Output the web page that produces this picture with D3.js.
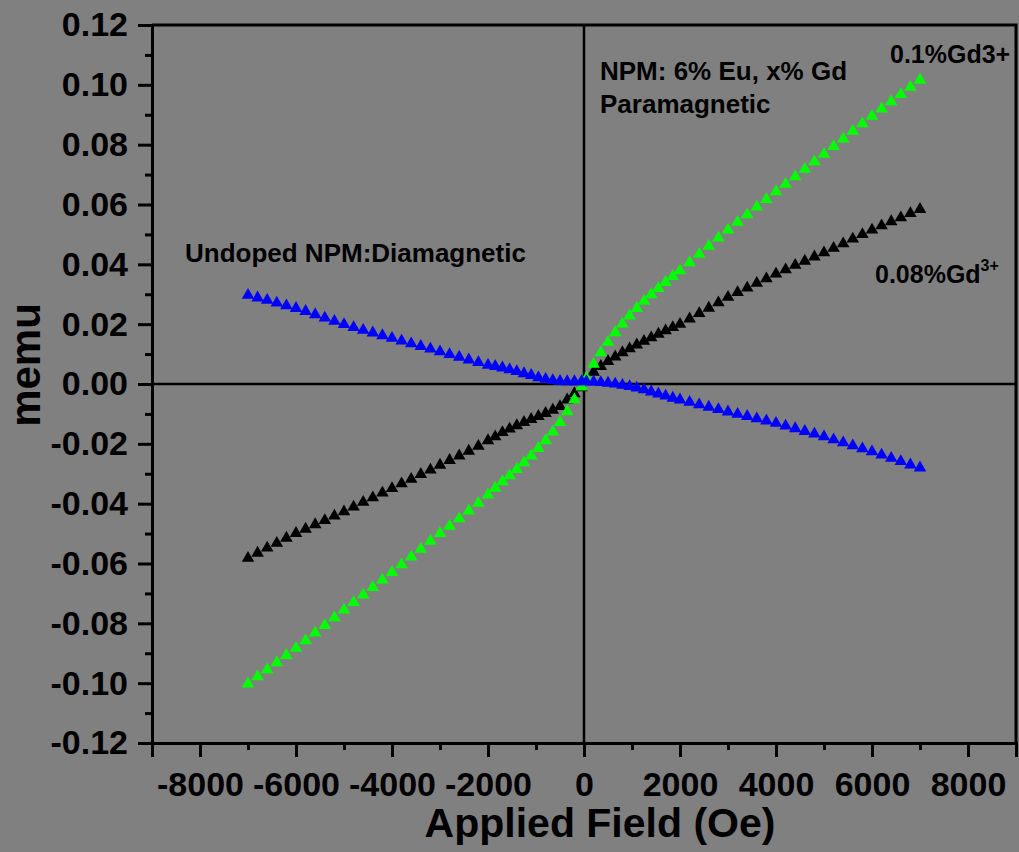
<!DOCTYPE html>
<html>
<head>
<meta charset="utf-8">
<title>M-H curves</title>
<script src="https://d3js.org/d3.v7.min.js"></script>
<style>
  body { margin: 0; background: #808080; }
  svg { display: block; }
  text { font-family: Arial, "Liberation Sans", sans-serif; font-weight: bold; fill: #000; }
</style>
</head>
<body>
<div id="chart"></div>
<script>
// applied field (Oe), sweep from +7000 to -7000
var field = [7000, 6800, 6600, 6400, 6200, 6000, 5800, 5600, 5400, 5200, 5000, 4800, 4600, 4400, 4200,
  4000, 3800, 3600, 3400, 3200, 3000, 2800, 2600, 2400, 2200, 2000,
  1850, 1700, 1550, 1400, 1250, 1100, 950, 800, 650, 500, 350, 200, 50,
  -50, -200, -350, -500, -650, -800, -950, -1100, -1250, -1400, -1550, -1700, -1850,
  -2000, -2200, -2400, -2600, -2800, -3000, -3200, -3400, -3600, -3800, -4000, -4200, -4400,
  -4600, -4800, -5000, -5200, -5400, -5600, -5800, -6000, -6200, -6400, -6600, -6800, -7000];

// 0.08% Gd3+ (black)
var gd008 = [0.0584, 0.0570, 0.0556, 0.0543, 0.0529, 0.0515, 0.0500, 0.0485, 0.0469, 0.0454, 0.0439, 0.0425, 0.0411, 0.0397, 0.0382,
  0.0368, 0.0352, 0.0337, 0.0321, 0.0306, 0.0290, 0.0272, 0.0254, 0.0236, 0.0218, 0.0200,
  0.0189, 0.0178, 0.0167, 0.0155, 0.0143, 0.0131, 0.0118, 0.0105, 0.0091, 0.0076, 0.0059, 0.0040, 0.0016,
  -0.0012, -0.0032, -0.0053, -0.0075, -0.0087, -0.0098, -0.0108, -0.0118, -0.0128, -0.0139, -0.0150, -0.0162, -0.0176,
  -0.0189, -0.0208, -0.0224, -0.0240, -0.0255, -0.0271, -0.0287, -0.0302, -0.0318, -0.0333, -0.0349, -0.0364, -0.0380,
  -0.0395, -0.0411, -0.0427, -0.0441, -0.0456, -0.0470, -0.0485, -0.0499, -0.0515, -0.0532, -0.0548, -0.0565, -0.0582];

// 0.1% Gd3+ (green)
var gd01 = [0.1016, 0.0992, 0.0968, 0.0944, 0.0920, 0.0895, 0.0870, 0.0845, 0.0819, 0.0794, 0.0768, 0.0743, 0.0718, 0.0693, 0.0668,
  0.0643, 0.0617, 0.0592, 0.0566, 0.0541, 0.0515, 0.0488, 0.0461, 0.0434, 0.0406, 0.0379,
  0.0360, 0.0340, 0.0320, 0.0299, 0.0277, 0.0253, 0.0228, 0.0201, 0.0172, 0.0140, 0.0105, 0.0066, 0.0020,
  -0.0010, -0.0052, -0.0092, -0.0128, -0.0160, -0.0189, -0.0215, -0.0240, -0.0263, -0.0285, -0.0306, -0.0326, -0.0348,
  -0.0371, -0.0398, -0.0424, -0.0450, -0.0475, -0.0499, -0.0525, -0.0552, -0.0578, -0.0604, -0.0630, -0.0655, -0.0680,
  -0.0705, -0.0730, -0.0755, -0.0781, -0.0807, -0.0832, -0.0858, -0.0883, -0.0907, -0.0931, -0.0955, -0.0978, -0.1002];

// undoped NPM (blue)
var undoped = [-0.0280, -0.0270, -0.0259, -0.0248, -0.0237, -0.0226, -0.0216, -0.0206, -0.0196, -0.0186, -0.0176, -0.0167, -0.0158, -0.0149, -0.0140,
  -0.0131, -0.0123, -0.0116, -0.0108, -0.0101, -0.0093, -0.0085, -0.0077, -0.0069, -0.0061, -0.0053,
  -0.0047, -0.0040, -0.0033, -0.0026, -0.0019, -0.0013, -0.0008, -0.0004, 0.0000, 0.0003, 0.0005, 0.0007, 0.0008,
  0.0008, 0.0008, 0.0008, 0.0009, 0.0012, 0.0016, 0.0021, 0.0029, 0.0035, 0.0042, 0.0048, 0.0054, 0.0059,
  0.0063, 0.0072, 0.0081, 0.0090, 0.0099, 0.0108, 0.0117, 0.0126, 0.0135, 0.0144, 0.0153, 0.0162, 0.0171,
  0.0180, 0.0189, 0.0199, 0.0210, 0.0221, 0.0232, 0.0243, 0.0253, 0.0262, 0.0271, 0.0280, 0.0288, 0.0297];

var yTicks = [-0.12, -0.10, -0.08, -0.06, -0.04, -0.02, 0, 0.02, 0.04, 0.06, 0.08, 0.10, 0.12];
var yMinor = [-0.11, -0.09, -0.07, -0.05, -0.03, -0.01, 0.01, 0.03, 0.05, 0.07, 0.09, 0.11];
var xTicks = [-8000, -6000, -4000, -2000, 0, 2000, 4000, 6000, 8000];
var xMinor = [-9000, -7000, -5000, -3000, -1000, 1000, 3000, 5000, 7000, 9000];

var series = [
  { name: "0.08%Gd3+", values: gd008, color: "#000000" },
  { name: "0.1%Gd3+", values: gd01, color: "#00ff00" },
  { name: "Undoped", values: undoped, color: "#0000ff" }
];

var width = 1019, height = 852;
var plotL = 152, plotR = 1016, plotT = 25, plotB = 743;

var svg = d3.select("#chart").append("svg")
    .attr("width", width)
    .attr("height", height)
    .style("background", "#808080");

var x = d3.scaleLinear().domain([-9000, 9000]).range([plotL, plotR]);
var y = d3.scaleLinear().domain([-0.12, 0.12]).range([plotB, plotT]);

// zero lines
svg.append("line")
    .attr("x1", plotL).attr("x2", plotR)
    .attr("y1", y(0)).attr("y2", y(0))
    .attr("stroke", "#000").attr("stroke-width", 2.5);
svg.append("line")
    .attr("x1", x(0)).attr("x2", x(0))
    .attr("y1", plotT).attr("y2", plotB)
    .attr("stroke", "#000").attr("stroke-width", 2.5);

// frame top / right
svg.append("path")
    .attr("d", "M" + plotL + "," + plotT + "H" + plotR + "V" + plotB)
    .attr("fill", "none").attr("stroke", "#000").attr("stroke-width", 3);

// axes
svg.append("g")
    .attr("transform", "translate(" + plotL + ",0)")
    .call(d3.axisLeft(y).tickValues(yTicks).tickSize(14).tickPadding(10)
        .tickFormat(function(d) { return d.toFixed(2); }));
svg.append("g")
    .attr("transform", "translate(" + plotL + ",0)")
    .call(d3.axisLeft(y).tickValues(yMinor).tickSize(7).tickFormat(""));

svg.append("g")
    .attr("transform", "translate(0," + plotB + ")")
    .call(d3.axisBottom(x).tickValues(xTicks).tickSize(14).tickPadding(15)
        .tickFormat(function(d) { return String(d); }));
svg.append("g")
    .attr("transform", "translate(0," + plotB + ")")
    .call(d3.axisBottom(x).tickValues(xMinor).tickSize(7).tickFormat(""));

svg.selectAll(".domain").attr("stroke", "#000").attr("stroke-width", 3);
svg.selectAll(".tick line").attr("stroke", "#000").attr("stroke-width", 3);
svg.selectAll(".tick text").style("font-size", "34px").attr("fill", "#000");

// markers
var tri = d3.symbol().type(d3.symbolTriangle).size(68);
series.forEach(function(s) {
  svg.append("g")
    .selectAll("path")
    .data(field.map(function(f, i) { return [f, s.values[i]]; }))
    .enter()
    .append("path")
      .attr("d", tri)
      .attr("transform", function(d) { return "translate(" + x(d[0]) + "," + y(d[1]) + ")"; })
      .attr("fill", s.color);
});

// axis titles
svg.append("text")
    .attr("x", 600).attr("y", 837)
    .attr("text-anchor", "middle")
    .style("font-size", "41px")
    .text("Applied Field (Oe)");

svg.append("text")
    .attr("transform", "translate(40,365) rotate(-90)")
    .attr("text-anchor", "middle")
    .style("font-size", "42px")
    .text("memu");

// annotations
svg.append("text").attr("x", 185).attr("y", 262).style("font-size", "26px")
    .text("Undoped NPM:Diamagnetic");
svg.append("text").attr("x", 600).attr("y", 80).style("font-size", "26px")
    .text("NPM: 6% Eu, x% Gd");
svg.append("text").attr("x", 600).attr("y", 113).style("font-size", "26px")
    .text("Paramagnetic");
svg.append("text").attr("x", 890).attr("y", 63).style("font-size", "25px")
    .text("0.1%Gd3+");
var lab = svg.append("text").attr("x", 875).attr("y", 283).style("font-size", "25px");
lab.append("tspan").text("0.08%Gd");
lab.append("tspan").attr("dy", -12).style("font-size", "16px").text("3+");
</script>
</body>
</html>
